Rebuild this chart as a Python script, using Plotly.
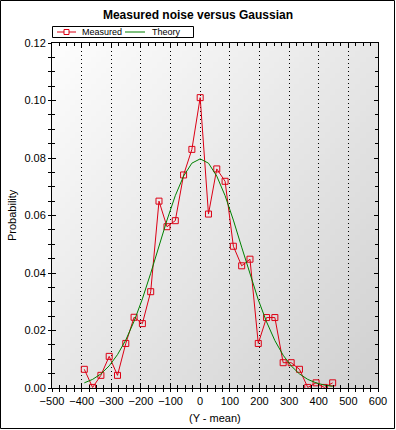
import base64, struct, zlib
import plotly.graph_objects as go

# ---- data ----
x_values = [-391, -363, -335, -307, -279, -251, -223, -195, -167, -139, -112, -84, -56, -28, 0,
            28, 56, 84, 112, 140, 168, 196, 224, 252, 280, 307, 335, 363, 391, 419, 447]
measured = [0.0065, 0.0002, 0.0044, 0.0110, 0.0044, 0.0155, 0.0246, 0.0224, 0.0335, 0.0650,
            0.0561, 0.0582, 0.0741, 0.0830, 0.1010, 0.0605, 0.0762, 0.0719, 0.0493, 0.0425,
            0.0448, 0.0155, 0.0245, 0.0245, 0.0088, 0.0088, 0.0065, 0.0002, 0.0018, 0.0002, 0.0018]
theory = [0.0018, 0.0030, 0.0049, 0.0077, 0.0116, 0.0167, 0.0232, 0.0310, 0.0399, 0.0494,
          0.0584, 0.0669, 0.0737, 0.0782, 0.0797, 0.0782, 0.0737, 0.0669, 0.0584, 0.0490,
          0.0396, 0.0307, 0.0230, 0.0165, 0.0114, 0.0077, 0.0049, 0.0030, 0.0018, 0.0010, 0.0006]
x_ticks = [-500, -400, -300, -200, -100, 0, 100, 200, 300, 400, 500, 600]
y_ticks = [0.0, 0.02, 0.04, 0.06, 0.08, 0.10, 0.12]
series_names = ["Measured", "Theory"]
series_colors = ["#dc0014", "#008000"]

W, H = 396, 430
L, R, T, B = 52, 18, 43, 42
PW, PH = W - L - R, H - T - B


def px(x):
    return (x - L) / PW


def py(y):
    return (H - B - y) / PH


def gradient_png(w, h):
    rows = []
    for j in range(h):
        row = bytearray()
        for i in range(w):
            s = (i / (w - 1)) + (j / (h - 1))
            v = int(round(253 - 22 * s))
            row += bytes((v, v, v))
        rows.append(b"\x00" + bytes(row))
    raw = b"".join(rows)

    def chunk(tag, data):
        c = struct.pack(">I", len(data)) + tag + data
        return c + struct.pack(">I", zlib.crc32(tag + data) & 0xFFFFFFFF)

    png = b"\x89PNG\r\n\x1a\n"
    png += chunk(b"IHDR", struct.pack(">IIBBBBB", w, h, 8, 2, 0, 0, 0))
    png += chunk(b"IDAT", zlib.compress(raw, 9))
    png += chunk(b"IEND", b"")
    return "data:image/png;base64," + base64.b64encode(png).decode()


font = "Liberation Sans, Arial, sans-serif"

fig = go.Figure()
fig.add_trace(go.Scatter(
    x=x_values, y=measured, name=series_names[0], mode="lines+markers",
    line=dict(color=series_colors[0], width=1),
    marker=dict(symbol="square-open", size=6, color=series_colors[0], line=dict(width=1)),
))
fig.add_trace(go.Scatter(
    x=x_values, y=theory, name=series_names[1], mode="lines",
    line=dict(color=series_colors[1], width=1),
))
# invisible trace so the overlay axes are drawn
fig.add_trace(go.Scatter(x=[None], y=[None], xaxis="x2", yaxis="y2", showlegend=False, hoverinfo="skip"))

common_x = dict(range=[-500, 600], tickvals=x_ticks, linecolor="black", linewidth=1, automargin=False)
common_y = dict(range=[0, 0.12], tickvals=y_ticks, linecolor="black", linewidth=1, automargin=False)

shapes = [
    # outer border
    dict(type="rect", xref="paper", yref="paper", x0=px(0.5), x1=px(W - 1.5),
         y0=py(H - 1.5), y1=py(0.5), line=dict(color="black", width=1),
         fillcolor="rgba(0,0,0,0)", layer="above"),
    # legend box
    dict(type="rect", xref="paper", yref="paper", x0=px(52.5), x1=px(193.5),
         y0=py(37.5), y1=py(26.5), line=dict(color="black", width=1),
         fillcolor="white", layer="above"),
    # legend symbols
    dict(type="line", xref="paper", yref="paper", x0=px(57), x1=px(76), y0=py(32), y1=py(32),
         line=dict(color=series_colors[0], width=1), layer="above"),
    dict(type="rect", xref="paper", yref="paper", x0=px(64), x1=px(69), y0=py(34.5), y1=py(29.5),
         line=dict(color=series_colors[0], width=1), fillcolor="white", layer="above"),
    dict(type="line", xref="paper", yref="paper", x0=px(125), x1=px(145), y0=py(32), y1=py(32),
         line=dict(color=series_colors[1], width=1), layer="above"),
]

annotations = [
    dict(text=series_names[0], xref="paper", yref="paper", x=px(80), y=py(32), xanchor="left",
         yanchor="middle", showarrow=False, font=dict(family=font, size=9, color="black")),
    dict(text=series_names[1], xref="paper", yref="paper", x=px(150), y=py(32), xanchor="left",
         yanchor="middle", showarrow=False, font=dict(family=font, size=9, color="black")),
    dict(text="(Y - mean)", xref="paper", yref="paper", x=px(215), y=py(418), xanchor="center",
         yanchor="middle", showarrow=False, font=dict(family=font, size=11, color="black")),
    dict(text="Probability", xref="paper", yref="paper", x=px(12), y=py(215), xanchor="center",
         yanchor="middle", showarrow=False, textangle=-90, font=dict(family=font, size=11, color="black")),
]

fig.update_layout(
    width=W, height=H,
    margin=dict(l=L, r=R, t=T, b=B, autoexpand=False),
    paper_bgcolor="white",
    plot_bgcolor="rgba(0,0,0,0)",
    font=dict(family=font, size=11, color="black"),
    title=dict(text="<b>Measured noise versus Gaussian</b>", x=0.5, xref="container",
               y=1 - 15 / H, yref="container", yanchor="middle", xanchor="center",
               font=dict(family=font, size=12, color="black")),
    showlegend=False,
    xaxis=dict(**common_x, showgrid=True, gridcolor="black", gridwidth=1, griddash="1px,3px",
               ticks="inside", ticklen=4, tickcolor="black", mirror="ticks", showline=True,
               showticklabels=False, zeroline=False,
               minor=dict(dtick=25, ticks="inside", ticklen=3, tickcolor="black", showgrid=False)),
    yaxis=dict(**common_y, showgrid=False, ticks="inside", ticklen=4, tickcolor="black",
               mirror="ticks", showline=True, showticklabels=False, zeroline=False,
               minor=dict(dtick=0.005, ticks="inside", ticklen=3, tickcolor="black", showgrid=False)),
    xaxis2=dict(**common_x, overlaying="x", side="bottom", anchor="y", showgrid=False,
                ticks="outside", ticklen=3, tickcolor="black", showline=False, zeroline=False,
                tickfont=dict(family=font, size=11, color="black"),
                minor=dict(dtick=25, ticks="outside", ticklen=3, tickcolor="black", showgrid=False)),
    yaxis2=dict(**common_y, overlaying="y", side="left", anchor="x", showgrid=False,
                ticks="outside", ticklen=3, tickcolor="black", showline=False, zeroline=False,
                tickformat=".2f", tickfont=dict(family=font, size=11, color="black"),
                minor=dict(dtick=0.005, ticks="outside", ticklen=3, tickcolor="black", showgrid=False)),
    images=[dict(source=gradient_png(64, 64), xref="paper", yref="paper", x=0, y=1,
                 sizex=1, sizey=1, sizing="stretch", layer="below", xanchor="left", yanchor="top")],
    shapes=shapes,
    annotations=annotations,
)

fig.write_html("out.html", config={"displayModeBar": False})

# remove the default page margin so the figure sits at the window origin
with open("out.html", "r", encoding="utf-8") as f:
    html = f.read()
html = html.replace("<head>", "<head><style>html,body{margin:0;padding:0;overflow:hidden;}</style>", 1)
with open("out.html", "w", encoding="utf-8") as f:
    f.write(html)
